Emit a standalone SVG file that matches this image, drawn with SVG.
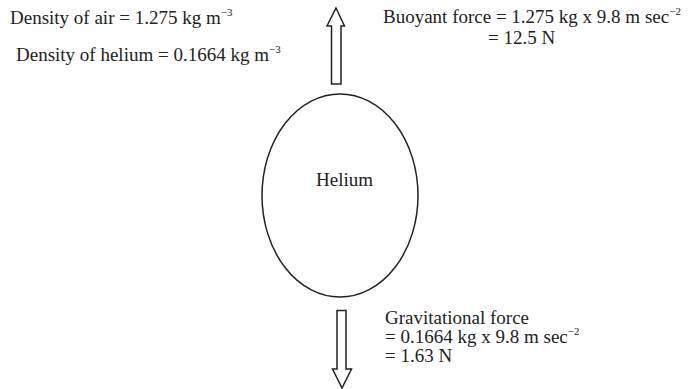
<svg xmlns="http://www.w3.org/2000/svg" width="688" height="389" viewBox="0 0 688 389">
<style>
  text { font-family: "Liberation Serif", "Times New Roman", serif; font-size: 19px; fill: #222; }
  .sup { font-size: 11px; }
  .shape { fill: #fff; stroke: #222; stroke-width: 1.5; stroke-linejoin: miter; }
</style>
<rect width="688" height="389" fill="#fff"/>
<g id="labels">
  <text x="10" y="24">Density of air = 1.275 kg m<tspan class="sup" dy="-8">−3</tspan></text>
  <text x="16" y="61">Density of helium = 0.1664 kg m<tspan class="sup" dy="-8">−3</tspan></text>
</g>
<g id="balloon">
  <ellipse class="shape" cx="340" cy="195.5" rx="78" ry="101.5"/>
  <text x="344.5" y="186" text-anchor="middle">Helium</text>
</g>
<g id="connectors">
  <polygon id="buoyant-arrow" class="shape" points="336,8 344.5,26 341,26 341,84 331.5,84 331.5,26 327,26"/>
  <polygon id="gravity-arrow" class="shape" points="337,310.5 346,310.5 346,369 351.5,369 342,388 332.5,369 337,369"/>
</g>
<g id="buoyant">
  <text x="383" y="23">Buoyant force = 1.275 kg x 9.8 m sec<tspan class="sup" dy="-8">−2</tspan></text>
  <text x="488" y="44">= 12.5 N</text>
</g>
<g id="gravity">
  <text x="385" y="324">Gravitational force</text>
  <text x="385" y="343">= 0.1664 kg x 9.8 m sec<tspan class="sup" dy="-8">−2</tspan></text>
  <text x="385" y="362">= 1.63 N</text>
</g>
</svg>
